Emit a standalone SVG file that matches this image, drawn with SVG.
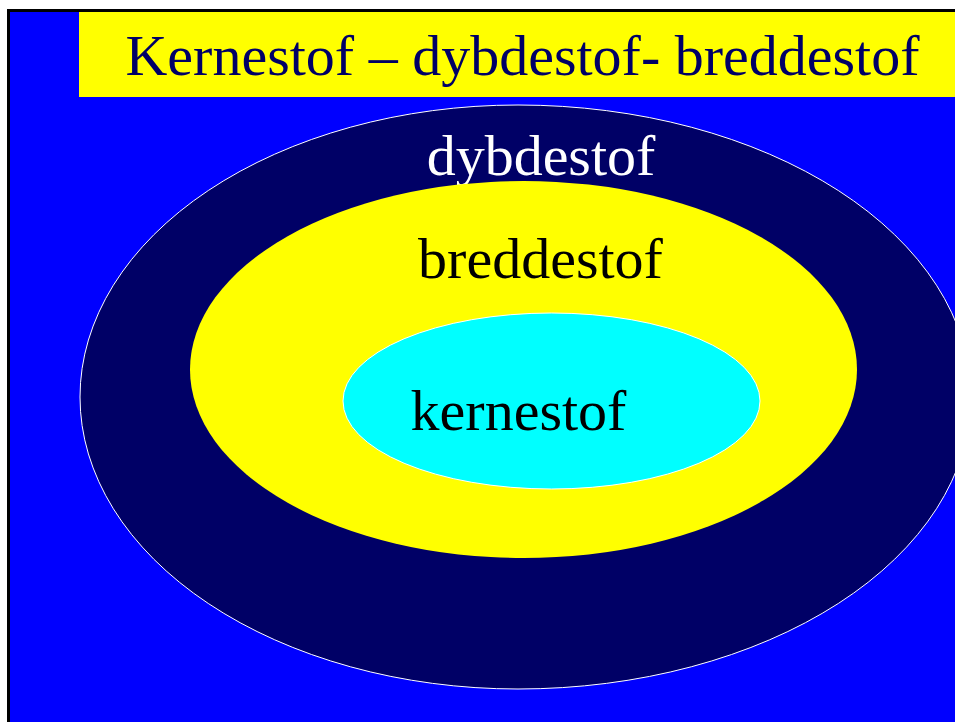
<svg xmlns="http://www.w3.org/2000/svg" width="955" height="722" viewBox="0 0 955 722">
<style>
text{font-family:"Liberation Serif","Times New Roman",serif;font-size:58px;text-anchor:middle}
</style>
<rect x="0" y="0" width="955" height="722" fill="#ffffff"/>
<rect x="8.5" y="10.5" width="950" height="715" fill="#0000ff" stroke="#000000" stroke-width="3"/>
<g id="title">
<rect x="79" y="12" width="876" height="85" fill="#ffff00"/>
<text x="522.5" y="75" fill="#000066">Kernestof – dybdestof- breddestof</text>
</g>
<g id="dybdestof">
<path d="M 80 397 A 438 292 0 0 1 518 105 A 453 292 0 0 1 971 397 A 453 292 0 0 1 518 689 A 438 292 0 0 1 80 397 Z" fill="#000066" stroke="#ffffff" stroke-width="1"/>
<text x="541" y="175" fill="#ffffff">dybdestof</text>
</g>
<g id="breddestof">
<ellipse cx="523.5" cy="369.5" rx="333.5" ry="188.5" fill="#ffff00"/>
<text x="540.5" y="278" fill="#000000">breddestof</text>
</g>
<g id="kernestof">
<ellipse cx="551.5" cy="401" rx="208.5" ry="88" fill="#00ffff" stroke="#ffffff" stroke-width="1"/>
<text x="518.5" y="430" fill="#000000">kernestof</text>
</g>
<g id="connectors"/>
</svg>
